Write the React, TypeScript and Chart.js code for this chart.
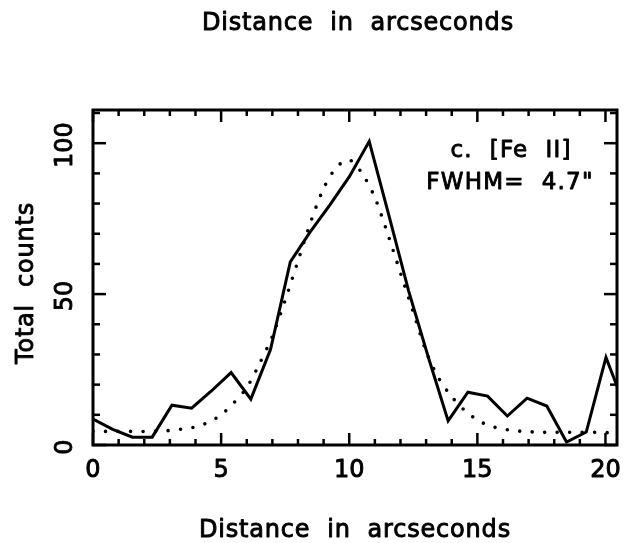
import React, { useEffect, useRef } from "react";
import { Chart, registerables } from "chart.js";

Chart.register(...registerables);

// Observed profile (solid line)
const obsDistance = [0, 0.77, 1.54, 2.31, 3.08, 3.85, 4.62, 5.39, 6.16, 6.93, 7.7, 8.47, 9.24, 10.01, 10.78, 11.55, 12.32, 13.09, 13.86, 14.63, 15.4, 16.17, 16.94, 17.71, 18.48, 19.25, 20.02, 20.79];
const obsCounts = [8.6, 5.2, 2.6, 2.6, 13.2, 12.2, 17.9, 24, 15.2, 31.7, 60.7, 70.5, 79.5, 89, 100.6, 76, 51, 29, 8, 17.5, 16.2, 9.6, 15.5, 12.9, 1, 4.3, 29, 12];

// Gaussian fit profile (dotted line)
const fitDistance = [0, 0.5, 1, 1.5, 2, 2.5, 3, 3.5, 4, 4.5, 5, 5.5, 6, 6.5, 7, 7.5, 8, 8.5, 9, 9.5, 10, 10.5, 11, 11.5, 12, 12.5, 13, 13.5, 14, 14.5, 15, 15.5, 16, 16.5, 17, 17.5, 18, 18.5, 19, 19.5, 20, 20.5];
const fitCounts = [4.5, 4.5, 4.5, 4.5, 4.5, 4.6, 4.8, 5.3, 6.0, 7.5, 10, 14, 19, 27, 36, 48, 61, 74, 85, 92, 94.5, 90, 82, 70, 57, 44, 31, 22, 16, 11.5, 8.3, 6.3, 5.3, 4.7, 4.4, 4.2, 4.2, 4.2, 4.2, 4.2, 4.1, 4.1];

const xTickLabels = [0, 5, 10, 15, 20];
const yTickLabels = [0, 50, 100];

const titleText = "Distance  in  arcseconds";
const xTitleText = "Distance  in  arcseconds";
const yTitleText = "Total  counts";
const annotLine1 = "c.  [Fe  II]";
const annotLine2 = "FWHM=  4.7\"";

const FONT = "DejaVu Sans";

const framePlugin = {
  id: "frame",
  afterDraw(chart: any) {
    const { ctx, chartArea, scales } = chart;
    const { left, right, top, bottom } = chartArea;
    const xs = scales.x;
    const ys = scales.y;
    ctx.save();
    ctx.strokeStyle = "#000";
    ctx.fillStyle = "#000";
    ctx.lineWidth = 3;
    ctx.strokeRect(left, top, right - left, bottom - top);

    const seg = (x1: number, y1: number, x2: number, y2: number) => {
      ctx.beginPath();
      ctx.moveTo(x1, y1);
      ctx.lineTo(x2, y2);
      ctx.stroke();
    };
    ctx.lineWidth = 2.5;
    for (let v = 0; v <= xs.max + 1e-9; v += 1) {
      const px = xs.getPixelForValue(v);
      const len = v % 5 === 0 ? 12 : 6;
      seg(px, bottom, px, bottom - len);
      seg(px, top, px, top + len);
    }
    for (let v = 0; v <= ys.max + 1e-9; v += 10) {
      const py = ys.getPixelForValue(v);
      const len = v % 50 === 0 ? 13 : 7;
      seg(left, py, left + len, py);
      seg(right, py, right - len, py);
    }

    const txt = (s: string, x: number, y: number) => {
      ctx.fillText(s, x, y);
      ctx.strokeText(s, x, y);
    };
    ctx.lineWidth = 0.9;
    ctx.lineJoin = "round";
    ctx.font = `24px "${FONT}"`;
    ctx.textAlign = "center";
    ctx.textBaseline = "middle";
    for (const v of xTickLabels) {
      txt(String(v), xs.getPixelForValue(v), 471);
    }
    for (const v of yTickLabels) {
      ctx.save();
      ctx.translate(65, ys.getPixelForValue(v));
      ctx.rotate(-Math.PI / 2);
      txt(String(v), -2, 1);
      ctx.restore();
    }

    (ctx as any).letterSpacing = "0.8px";
    txt(titleText, 358, 24);
    txt(xTitleText, 355, 531);
    ctx.save();
    ctx.translate(27, 283);
    ctx.rotate(-Math.PI / 2);
    txt(yTitleText, 0, 0);
    ctx.restore();

    ctx.font = `23px "${FONT}"`;
    (ctx as any).letterSpacing = "1.2px";
    txt(annotLine1, 511, 151);
    txt(annotLine2, 510, 183);
    ctx.restore();
  },
};

export default function App() {
  const ref = useRef<HTMLCanvasElement | null>(null);
  useEffect(() => {
    if (!ref.current) return;
    const chart = new Chart(ref.current, {
      type: "line",
      data: {
        datasets: [
          {
            label: "observed",
            data: obsDistance.map((d, i) => ({ x: d, y: obsCounts[i] })),
            borderColor: "#000",
            borderWidth: 3,
            pointRadius: 0,
            tension: 0,
            borderJoinStyle: "miter",
          },
          {
            label: "fit",
            data: fitDistance.map((d, i) => ({ x: d, y: fitCounts[i] })),
            borderColor: "#000",
            borderWidth: 3.6,
            borderDash: [0, 12.5],
            borderCapStyle: "round",
            pointRadius: 0,
            tension: 0.3,
          },
        ],
      },
      options: {
        responsive: false,
        animation: false,
        devicePixelRatio: 1,
        layout: { padding: { left: 93, top: 110, right: 7, bottom: 98 } },
        scales: {
          x: { type: "linear", min: 0, max: 20.45, display: false },
          y: { type: "linear", min: 0, max: 111, display: false },
        },
        plugins: {
          legend: { display: false },
          tooltip: { enabled: false },
          title: { display: false },
        },
      },
      plugins: [framePlugin],
    } as any);
    return () => chart.destroy();
  }, []);
  return (
    <div style={{ position: "absolute", left: 0, top: 0, width: 624, height: 543, background: "#fff" }}>
      <canvas ref={ref} width={624} height={543} style={{ width: 624, height: 543, display: "block" }} />
    </div>
  );
}
